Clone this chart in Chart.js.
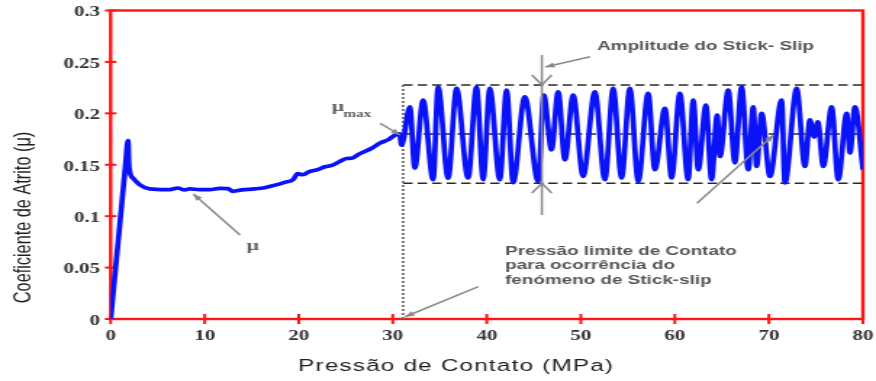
<!DOCTYPE html>
<html>
<head>
<meta charset="utf-8">
<script src="https://cdn.jsdelivr.net/npm/chart.js@4.4.1/dist/chart.umd.min.js"></script>
<style>
  html, body { margin: 0; padding: 0; background: #fff; overflow: hidden; }
  canvas { display: block; }
</style>
</head>
<body>
<!-- drawn on a 604px-wide canvas and shown 876px wide -->
<canvas id="c" width="604" height="381" style="width:876px;height:381px"></canvas>
<script>
// Contact pressure (MPa)
const pressure = [
  0, 0.9, 1.6, 1.84, 1.95, 2.37, 3.09, 4.15, 5.93, 6.28, 7.13, 7.87, 8.40, 9.47, 10.53, 11.6, 12.45,
  13.01, 13.94, 15.32, 16.38, 17.27, 18.51, 19.39, 19.89, 20.43, 21.17, 22.02, 22.77, 23.51,
  24.36, 25.07, 25.64, 26.28, 27.02, 27.77, 28.62, 29.47, 30.39, 30.74, 30.93,
  31.81, 32.34, 33.22, 34.29, 34.82, 35.88, 36.78, 38.01, 38.90, 39.61, 40.32, 41.38, 42.10,
  42.80, 44.04, 45.46, 46.06, 46.88, 47.59, 48.30, 49.18, 50.24, 51.49, 52.55, 53.44, 54.33,
  55.21, 56.10, 57.16, 57.87, 58.94, 59.65, 60.53, 61.41, 61.95, 62.48, 63.30, 63.90, 64.50,
  64.79, 65.67, 66.38, 67.10, 67.80, 68.33, 68.69, 69.22, 70.11, 71.35, 71.70, 72.95, 73.83,
  74.36, 74.79, 75.20, 75.78, 76.67, 77.37, 78.27, 78.62, 79.15, 80.0
];
// Friction coefficient (mu)
const friction = [
  0, 0.085, 0.152, 0.1735, 0.148, 0.137, 0.1306, 0.1265, 0.1258, 0.1258, 0.1274, 0.1255, 0.1265, 0.1258,
  0.1258, 0.127, 0.1268, 0.1242, 0.1255, 0.1265, 0.1277, 0.1297, 0.1329, 0.1355, 0.1413,
  0.1403, 0.1435, 0.1452, 0.148, 0.1493, 0.1532, 0.1561, 0.1563, 0.1597, 0.1629, 0.166,
  0.171, 0.1742, 0.1795, 0.180, 0.169,
  0.2064, 0.1468, 0.2129, 0.1355, 0.2258, 0.137, 0.2242, 0.1371, 0.2258, 0.1355, 0.2242,
  0.1355, 0.2226, 0.1326, 0.2161, 0.1338, 0.2177, 0.1645, 0.2209, 0.1548, 0.2177, 0.1387,
  0.2209, 0.1355, 0.2242, 0.1371, 0.2242, 0.1338, 0.2194, 0.1452, 0.2049, 0.1371, 0.2194,
  0.1355, 0.2129, 0.1452, 0.2081, 0.1355, 0.1984, 0.158, 0.2226, 0.1519, 0.2258, 0.1452,
  0.2064, 0.1484, 0.200, 0.1387, 0.2129, 0.1323, 0.2242, 0.1484, 0.1936, 0.177, 0.1916,
  0.1484, 0.2064, 0.1355, 0.200, 0.1616, 0.2064, 0.1452
];
const xTickLabels = ['0', '10', '20', '30', '40', '50', '60', '70', '80'];
const yTickLabels = ['0', '0.05', '0.1', '0.15', '0.2', '0.25', '0.3'];

// Stick-slip band: onset pressure, upper, mean and lower friction levels
const slipOnset = 31.1;
const slipUpper = 0.2276;
const slipMean = 0.1799;
const slipLower = 0.132;

const points = pressure.map((p, i) => ({ x: p, y: friction[i] }));

const GREY_TEXT = '#555';
const GREY_LINE = '#8a8a8a';

function arrow(ctx, x1, y1, x2, y2, head) {
  ctx.beginPath();
  ctx.moveTo(x1, y1);
  ctx.lineTo(x2, y2);
  ctx.stroke();
  const a = Math.atan2(y2 - y1, x2 - x1);
  ctx.beginPath();
  ctx.moveTo(x2, y2);
  ctx.lineTo(x2 - head * Math.cos(a - 0.38), y2 - head * Math.sin(a - 0.38));
  ctx.lineTo(x2 - head * Math.cos(a + 0.38), y2 - head * Math.sin(a + 0.38));
  ctx.closePath();
  ctx.fill();
}

const decor = {
  id: 'decor',
  beforeDatasetsDraw(chart) {
    const { ctx, chartArea: a, scales: { x, y } } = chart;
    ctx.save();
    // red frame
    ctx.strokeStyle = '#ff1414';
    ctx.lineWidth = 2.4;
    ctx.strokeRect(a.left, a.top, a.right - a.left, a.bottom - a.top);
    // tick marks crossing the axes
    ctx.lineWidth = 2;
    y.ticks.forEach((t, i) => {
      const py = y.getPixelForTick(i);
      ctx.beginPath(); ctx.moveTo(a.left - 4, py); ctx.lineTo(a.left + 4, py); ctx.stroke();
    });
    x.ticks.forEach((t, i) => {
      const px = x.getPixelForTick(i);
      ctx.beginPath(); ctx.moveTo(px, a.bottom - 5); ctx.lineTo(px, a.bottom + 5); ctx.stroke();
    });
    // stick-slip band
    const x0 = x.getPixelForValue(slipOnset);
    ctx.strokeStyle = '#2a2a2a';
    ctx.lineWidth = 1.5;
    ctx.setLineDash([6.5, 3.5]);
    [slipUpper, slipLower].forEach(v => {
      const py = y.getPixelForValue(v);
      ctx.beginPath(); ctx.moveTo(x0, py); ctx.lineTo(a.right, py); ctx.stroke();
    });
    ctx.setLineDash([7, 2.5, 2, 2.5]);
    const pm = y.getPixelForValue(slipMean);
    ctx.beginPath(); ctx.moveTo(x0, pm); ctx.lineTo(a.right, pm); ctx.stroke();
    // onset pressure marker
    ctx.strokeStyle = '#7a7a7a';
    ctx.lineWidth = 2;
    ctx.setLineDash([2, 2]);
    ctx.beginPath(); ctx.moveTo(x0, y.getPixelForValue(slipUpper)); ctx.lineTo(x0, a.bottom); ctx.stroke();
    ctx.restore();
  },
  afterDatasetsDraw(chart) {
    const { ctx, scales: { x, y } } = chart;
    const X = v => x.getPixelForValue(v);
    const Y = v => y.getPixelForValue(v);
    ctx.save();
    ctx.strokeStyle = GREY_LINE;
    ctx.fillStyle = GREY_LINE;
    ctx.lineWidth = 1.5;

    // amplitude marker
    const xa = X(45.85);
    ctx.beginPath(); ctx.moveTo(xa, Y(0.2567)); ctx.lineTo(xa, Y(0.1011)); ctx.stroke();
    ctx.beginPath();
    ctx.moveTo(X(44.8), Y(0.2373)); ctx.lineTo(xa, Y(slipUpper)); ctx.lineTo(X(46.9), Y(0.2373));
    ctx.moveTo(X(44.8), Y(0.1225)); ctx.lineTo(xa, Y(slipLower)); ctx.lineTo(X(46.9), Y(0.1225));
    ctx.stroke();

    arrow(ctx, X(50.99), Y(0.2551), X(46.2), Y(0.2451), 7);
    arrow(ctx, X(28.65), Y(0.1903), X(30.78), Y(0.1789), 7);
    arrow(ctx, X(13.76), Y(0.0817), X(8.79), Y(0.1216), 7);
    arrow(ctx, X(62.34), Y(0.1125), X(70.49), Y(0.1789), 7);
    arrow(ctx, X(39.1), Y(0.0314), X(31.31), Y(0.0022), 7);

    // annotation texts
    ctx.fillStyle = GREY_TEXT;
    ctx.textAlign = 'left';
    ctx.textBaseline = 'middle';
    ctx.font = 'bold 13px "Liberation Sans", Arial, sans-serif';
    ctx.fillText('Amplitude do Stick- Slip', X(51.73), Y(0.2648));
    ctx.fillText('Pressão limite de Contato', X(41.95), Y(0.0654));
    ctx.fillText('para ocorrência do', X(41.95), Y(0.0525));
    ctx.fillText('fenómeno de Stick-slip', X(41.95), Y(0.0379));

    ctx.textBaseline = 'alphabetic';
    ctx.fillStyle = '#606060';
    ctx.font = 'bold 15px "Liberation Serif", "Times New Roman", serif';
    ctx.fillText('μ', X(23.51), Y(0.2023));
    ctx.font = 'bold 10.5px "Liberation Serif", "Times New Roman", serif';
    ctx.fillText('max', X(24.75), Y(0.1964));
    ctx.font = 'bold 15px "Liberation Serif", "Times New Roman", serif';
    ctx.fillText('μ', X(14.45), Y(0.0671));

    // axis titles
    ctx.fillStyle = '#1e1e1e';
    ctx.textAlign = 'center';
    ctx.textBaseline = 'middle';
    ctx.font = '16.8px "Liberation Sans", Arial, sans-serif';
    ctx.letterSpacing = '0.8px';
    ctx.fillText('Pressão de Contato (MPa)', 314.5, 366.5);
    ctx.letterSpacing = '0px';
    ctx.font = '16.3px "Liberation Sans", Arial, sans-serif';
    ctx.translate(16.2, 217.5);
    ctx.rotate(-Math.PI / 2);
    ctx.fillText('Coeficiente de Atrito (μ)', 0, 0);
    ctx.restore();
  }
};

const tickFont = { family: '"Liberation Serif", "Times New Roman", serif', size: 14.5, weight: 'bold' };

new Chart(document.getElementById('c'), {
  type: 'line',
  data: {
    datasets: [{
      data: points,
      borderColor: 'rgb(10,18,248)',
      borderWidth: 3.7,
      pointRadius: 0,
      fill: false,
      cubicInterpolationMode: 'monotone'
    }]
  },
  options: {
    responsive: false,
    animation: false,
    devicePixelRatio: 1,
    layout: { padding: { left: 0, top: 10.5, right: 9, bottom: 0 } },
    plugins: { legend: { display: false }, tooltip: { enabled: false } },
    scales: {
      x: {
        type: 'linear',
        min: 0, max: 80,
        grid: { display: false, drawTicks: false },
        border: { display: false },
        ticks: {
          stepSize: 10,
          padding: 9,
          color: '#333',
          font: tickFont,
          maxRotation: 0,
          callback: (v, i) => xTickLabels[i]
        },
        afterFit: s => { s.height = 62; s.paddingLeft = 0; s.paddingRight = 0; }
      },
      y: {
        min: 0, max: 0.3,
        grid: { display: false, drawTicks: false },
        border: { display: false },
        ticks: {
          stepSize: 0.05,
          padding: 7.3,
          labelOffset: 2,
          color: '#333',
          font: tickFont,
          callback: (v, i) => yTickLabels[i]
        },
        afterFit: s => { s.width = 76.3; s.paddingTop = 0; s.paddingBottom = 0; }
      }
    }
  },
  plugins: [decor]
});
</script>
</body>
</html>
